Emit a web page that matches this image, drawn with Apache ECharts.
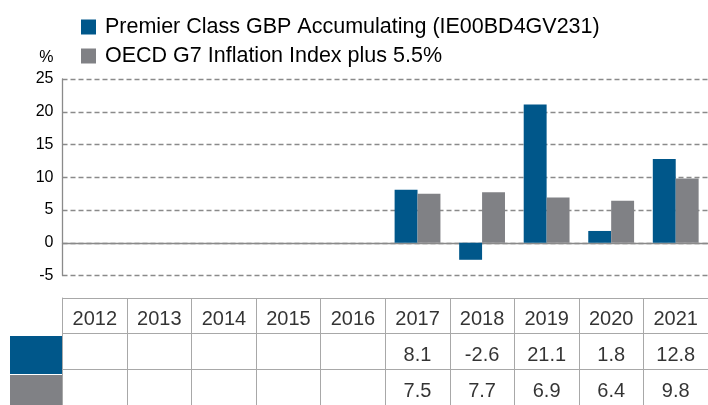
<!DOCTYPE html>
<html>
<head>
<meta charset="utf-8">
<script src="https://cdn.jsdelivr.net/npm/echarts@6/dist/echarts.min.js"></script>
<style>
  html, body { margin: 0; padding: 0; background: #fff; }
  #chart { width: 708px; height: 405px; }
</style>
</head>
<body>
<div id="chart"></div>
<script>
// 数据
var years = ['2012', '2013', '2014', '2015', '2016', '2017', '2018', '2019', '2020', '2021'];
var fundName = 'Premier Class GBP Accumulating (IE00BD4GV231)';
var benchName = 'OECD G7 Inflation Index plus 5.5%';
var fundValues = [null, null, null, null, null, 8.1, -2.6, 21.1, 1.8, 12.8];
var benchValues = [null, null, null, null, null, 7.5, 7.7, 6.9, 6.4, 9.8];

var BLUE = '#00578a';
var GREY = '#808185';
var FONT = 'Liberation Sans, Arial, sans-serif';

// 表格单元格文字
function tableCells() {
  var cells = [];
  years.forEach(function (y, i) {
    cells.push([i, 0, y]);
    cells.push([i, 1, fundValues[i] == null ? '' : fundValues[i].toFixed(1)]);
    cells.push([i, 2, benchValues[i] == null ? '' : benchValues[i].toFixed(1)]);
  });
  return cells;
}

var chart = echarts.init(document.getElementById('chart'));
chart.setOption({
  animation: false,
  textStyle: { fontFamily: FONT },
  legend: {
    orient: 'vertical',
    left: 76,
    top: 11,
    itemWidth: 15,
    itemHeight: 15,
    itemGap: 7,
    icon: 'rect',
    textStyle: { fontSize: 21.5, color: '#000', fontFamily: FONT, padding: [0, 0, 0, 4] },
    data: [fundName, benchName]
  },
  grid: [
    { left: 62.5, width: 650, top: 79, height: 196.5 },
    { left: 62.5, width: 650, top: 298, height: 114 }
  ],
  xAxis: [
    {
      type: 'category', gridIndex: 0, data: years,
      axisLine: { onZero: true, lineStyle: { color: '#8a8a8a', width: 1.3 } },
      axisTick: { show: false }, axisLabel: { show: false }
    },
    {
      type: 'category', gridIndex: 1, data: years, position: 'top',
      axisLine: { lineStyle: { color: '#a8a8a8' } },
      axisTick: { show: false }, axisLabel: { show: false },
      splitLine: { show: true, interval: 0, lineStyle: { color: '#a8a8a8' } }
    }
  ],
  yAxis: [
    {
      type: 'value', gridIndex: 0, min: -5, max: 25, interval: 5,
      name: '%', nameLocation: 'end', nameGap: 13,
      nameTextStyle: { fontSize: 16, color: '#000', align: 'right', padding: [0, 9, 0, 0], fontFamily: FONT },
      axisLine: { show: true, lineStyle: { color: '#8a8a8a', width: 1.3 } },
      axisTick: { show: false },
      axisLabel: { fontSize: 16, color: '#000', margin: 9, fontFamily: FONT },
      splitLine: { lineStyle: { color: '#8a8a8a', type: [5, 3], width: 1.3 } }
    },
    {
      type: 'category', gridIndex: 1, inverse: true, data: ['year', 'fund', 'bench'],
      axisLine: { show: true, lineStyle: { color: '#a8a8a8' } },
      axisTick: { show: false }, axisLabel: { show: false },
      splitLine: { show: true, interval: 0, lineStyle: { color: '#a8a8a8' } }
    }
  ],
  series: [
    {
      name: fundName, type: 'bar', xAxisIndex: 0, yAxisIndex: 0,
      data: fundValues, itemStyle: { color: BLUE },
      barCategoryGap: '29%', barGap: 0
    },
    {
      name: benchName, type: 'bar', xAxisIndex: 0, yAxisIndex: 0,
      data: benchValues, itemStyle: { color: GREY },
      barCategoryGap: '29%', barGap: 0
    },
    {
      type: 'scatter', xAxisIndex: 1, yAxisIndex: 1,
      data: tableCells(), symbolSize: 1,
      itemStyle: { color: 'transparent' },
      label: {
        show: true, position: 'inside', offset: [0, 4],
        fontSize: 20, color: '#000', fontFamily: FONT,
        formatter: function (p) { return p.value[2]; }
      },
      silent: true
    }
  ],
  graphic: [
    { type: 'rect', shape: { x: 10, y: 336, width: 52.5, height: 38 }, style: { fill: BLUE } },
    { type: 'rect', shape: { x: 10, y: 375, width: 52.5, height: 40 }, style: { fill: GREY } }
  ]
});

window.addEventListener('resize', function () { chart.resize(); });
</script>
</body>
</html>
